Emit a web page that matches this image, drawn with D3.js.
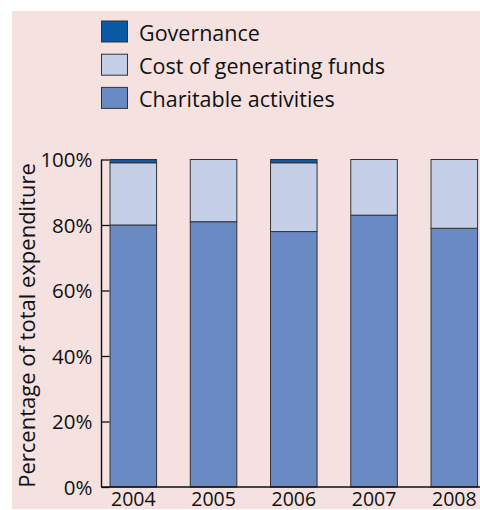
<!DOCTYPE html>
<html>
<head>
<meta charset="utf-8">
<script src="https://cdn.jsdelivr.net/npm/d3@7"></script>
<style>
  body { margin: 0; background: #fff; }
  svg text { font-family: "Open Sans", sans-serif; fill: #111; }
</style>
</head>
<body>
<div id="chart"></div>
<script>
const years = ["2004", "2005", "2006", "2007", "2008"];
const charitable = [80, 81, 78, 83, 79];
const costFunds = [19, 19, 21, 17, 21];
const governance = [1, 0, 1, 0, 0];
const seriesNames = ["Charitable activities", "Cost of generating funds", "Governance"];
const yTicks = [0, 20, 40, 60, 80, 100];

const width = 480,
  height = 510;

const colors = {
  "Charitable activities": "#6a8ac4",
  "Cost of generating funds": "#c5cfe8",
  "Governance": "#0b5aa6",
};

const rows = years.map((y, i) => ({
  year: y,
  "Charitable activities": charitable[i],
  "Cost of generating funds": costFunds[i],
  "Governance": governance[i],
}));

const stack = d3.stack().keys(seriesNames)(rows);

const x = d3
  .scaleBand()
  .domain(years)
  .range([102, 485.6])
  .paddingInner(0.42)
  .paddingOuter(0.1);

const y = d3.scaleLinear().domain([0, 100]).range([487, 159.5]);

const svg = d3
  .select("#chart")
  .append("svg")
  .attr("width", width)
  .attr("height", height);

// background panel
svg
  .append("rect")
  .attr("x", 12)
  .attr("y", 11)
  .attr("width", width - 12)
  .attr("height", 498)
  .attr("fill", "#f4e1e0");

// bars
svg
  .append("g")
  .selectAll("g")
  .data(stack)
  .join("g")
  .attr("fill", (d) => colors[d.key])
  .selectAll("rect")
  .data((d) => d.filter((v) => v[1] - v[0] > 0))
  .join("rect")
  .attr("x", (d) => x(d.data.year))
  .attr("y", (d) => y(d[1]))
  .attr("width", x.bandwidth())
  .attr("height", (d) => y(d[0]) - y(d[1]))
  .attr("stroke", "#333")
  .attr("stroke-width", 1);

// y axis
const yAxis = svg
  .append("g")
  .attr("transform", "translate(101.5,0)")
  .call(
    d3
      .axisRight(y)
      .tickValues(yTicks)
      .tickSize(8)
      .tickFormat((d) => d + "%")
  );
yAxis.select(".domain").remove();
yAxis.selectAll(".tick line").attr("stroke", "#111").attr("stroke-width", 1.3);
yAxis
  .selectAll(".tick text")
  .attr("x", -9)
  .attr("dy", "0.35em")
  .attr("text-anchor", "end")
  .style("font-size", "20.5px");

svg
  .append("line")
  .attr("x1", 101.5)
  .attr("x2", 101.5)
  .attr("y1", y(100))
  .attr("y2", y(0))
  .attr("stroke", "#111")
  .attr("stroke-width", 1.4);

// x axis
const xAxis = svg
  .append("g")
  .attr("transform", `translate(0,${y(0)})`)
  .call(d3.axisBottom(x).tickSize(0));
xAxis.select(".domain").remove();
xAxis
  .selectAll(".tick text")
  .attr("y", 18.5)
  .attr("dy", 0)
  .style("font-size", "19.5px");

svg
  .append("line")
  .attr("x1", 101)
  .attr("x2", width)
  .attr("y1", y(0))
  .attr("y2", y(0))
  .attr("stroke", "#111")
  .attr("stroke-width", 1.4);

// y axis title
svg
  .append("text")
  .attr("transform", `translate(35,${(488 + 163) / 2}) rotate(-90)`)
  .attr("text-anchor", "middle")
  .style("font-size", "22px")
  .text("Percentage of total expenditure");

// legend
const legendOrder = ["Governance", "Cost of generating funds", "Charitable activities"];
const legend = svg
  .append("g")
  .selectAll("g")
  .data(legendOrder)
  .join("g")
  .attr("transform", (d, i) => `translate(101,${21 + i * 33.2})`);

legend
  .append("rect")
  .attr("x", 0.5)
  .attr("y", 0)
  .attr("width", 26)
  .attr("height", 21)
  .attr("fill", (d) => colors[d])
  .attr("stroke", "#333")
  .attr("stroke-width", 1);

legend
  .append("text")
  .attr("x", 38)
  .attr("y", 19.5)
  .style("font-size", "21.5px")
  .text((d) => d);
</script>
</body>
</html>
